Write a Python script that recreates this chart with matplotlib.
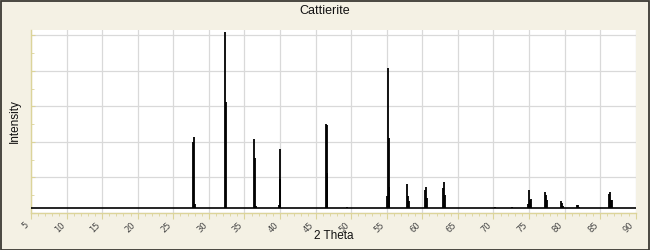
import matplotlib
matplotlib.use("Agg")
import matplotlib.pyplot as plt
from matplotlib.ticker import MultipleLocator

plt.rcParams['font.family'] = ['Liberation Sans', 'DejaVu Sans']

# Peak positions (2 theta) and intensities
two_theta = [27.84, 27.98, 28.10,
             32.34, 32.48,
             36.28, 36.42, 36.56,
             39.86, 39.94, 40.04,
             46.42, 46.56, 46.65,
             49.47,
             55.00, 55.14, 55.28, 55.38,
             57.82, 57.96, 58.10,
             60.35, 60.49, 60.63,
             62.88, 63.02, 63.16,
             70.26, 72.60,
             74.84, 74.98, 75.12, 75.26,
             77.24, 77.38, 77.52,
             79.49, 79.68, 79.82,
             81.74, 81.88, 82.08,
             86.24, 86.38, 86.52, 86.66]
intensity = [40.1, 42.6, 5.1,
             101.9, 62.6,
             41.6, 31.1, 4.1,
             4.5, 36.0, 19.1,
             50.1, 49.7, 22.5,
             3.2,
             9.6, 81.4, 42.2, 14.5,
             16.3, 9.6, 6.8,
             12.9, 14.6, 8.4,
             14.1, 17.4, 10.1,
             3.2, 3.4,
             5.1, 12.9, 7.3, 7.9,
             11.8, 10.3, 7.3,
             6.8, 5.8, 4.1,
             4.7, 4.7, 3.4,
             10.7, 12.0, 7.3, 7.3]
baseline = 2.6
x_range = [5, 90]

bg = '#f4f1e4'
axis_col = '#dcd49a'

fig = plt.figure(figsize=(6.5, 2.5), dpi=100, facecolor=bg)
# outer dark border
fig.patches.append(plt.Rectangle((0.0008, 0.002), 0.9984, 0.996, transform=fig.transFigure,
                                 fill=False, edgecolor='#3c3a33', linewidth=1.3))
ax = fig.add_axes([31/650, 1-213/250, (635.7-31)/650, (213-30)/250])
ax.set_facecolor('white')

ax.plot(x_range, [baseline, baseline], color='black', linewidth=1.2, zorder=3)
ax.vlines(two_theta, baseline, intensity, color='black', linewidth=1.3, zorder=3)

ax.set_xlim(*x_range)
ax.set_ylim(0, 103)
ax.xaxis.set_major_locator(MultipleLocator(5))
ax.xaxis.set_minor_locator(MultipleLocator(1))
ax.yaxis.set_major_locator(MultipleLocator(20))
ax.yaxis.set_minor_locator(MultipleLocator(10))
ax.grid(True, which='major', color='#d9d9d9', linewidth=0.9, zorder=0)
ax.set_axisbelow(True)

for s in ['top', 'right']:
    ax.spines[s].set_visible(False)
for s in ['left', 'bottom']:
    ax.spines[s].set_color(axis_col)
    ax.spines[s].set_linewidth(1.0)

ax.tick_params(axis='x', which='major', direction='out', length=4, color=axis_col,
               labelsize=6, labelcolor='#444444', pad=1.5)
ax.tick_params(axis='x', which='minor', direction='out', length=2.5, color=axis_col)
ax.tick_params(axis='y', which='both', direction='in', length=3, color=axis_col,
               labelleft=False)
ax.tick_params(axis='y', which='minor', length=2)
for lab in ax.get_xticklabels():
    lab.set_rotation(45)
    lab.set_ha('right')
    lab.set_va('top')
    lab.set_family(['DejaVu Sans'])

ax.set_xlabel('2 Theta', fontsize=8.5, color='#111111')
ax.xaxis.set_label_coords(0.5, (213-236)/183)
ax.xaxis.label.set_va('center')
ax.set_ylabel('Intensity', fontsize=8.5, color='#111111')
ax.yaxis.set_label_coords((15-31)/604.7, 0.5)
ax.yaxis.label.set_va('center')
fig.text(0.5, 1-11/250, 'Cattierite', ha='center', va='center', fontsize=9, color='#111111')

fig.savefig('out.png', dpi=100, facecolor=bg)
